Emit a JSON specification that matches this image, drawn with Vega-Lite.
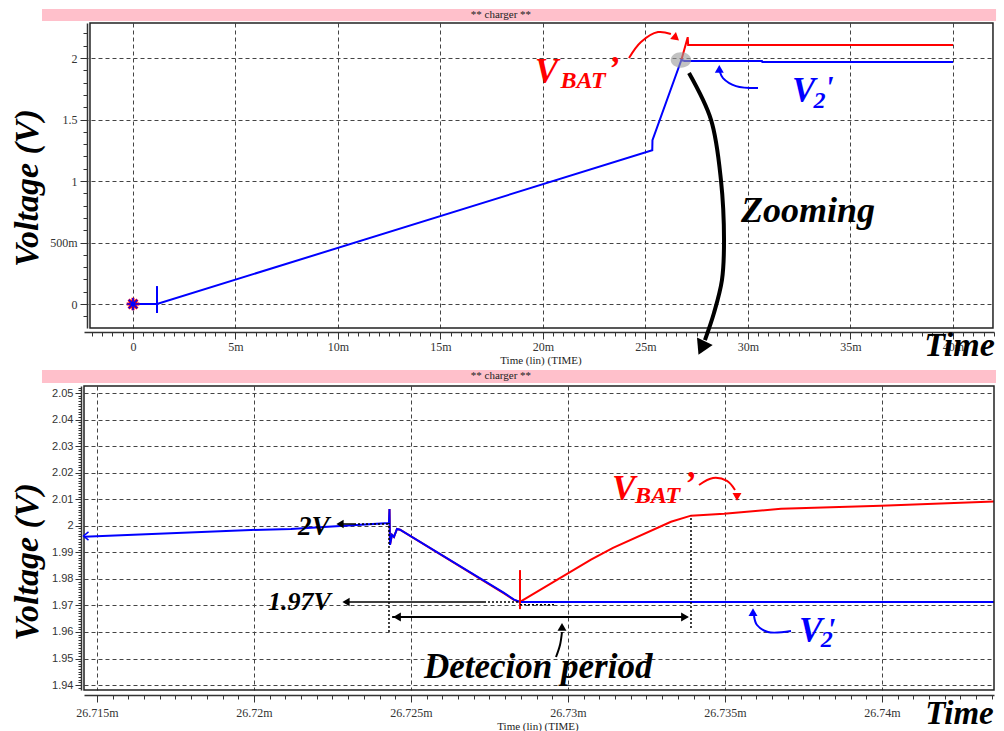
{
  "$schema": "https://vega.github.io/schema/vega-lite/v6.json",
  "background": "white",
  "padding": 0,
  "autosize": {"type": "pad"},
  "bounds": "flush",
  "spacing": 58,
  "config": {"view": {"stroke": null}},
  "data": {"values": [{}]},
  "datasets": {
    "top": [
      {"series": "V2", "t": 0, "v": 0},
      {"series": "V2", "t": 1.17, "v": 0},
      {"series": "V2", "t": 25.33, "v": 1.25},
      {"series": "V2", "t": 25.34, "v": 1.333},
      {"series": "V2", "t": 26.75, "v": 1.984},
      {"series": "V2", "t": 26.9, "v": 1.976},
      {"series": "V2", "t": 30.68, "v": 1.976},
      {"series": "V2", "t": 30.7, "v": 1.967},
      {"series": "V2", "t": 40.0, "v": 1.967},
      {"series": "VBAT", "t": 26.75, "v": 1.984},
      {"series": "VBAT", "t": 27.06, "v": 2.17},
      {"series": "VBAT", "t": 27.08, "v": 2.106},
      {"series": "VBAT", "t": 40.0, "v": 2.106}
    ],
    "bottom": [
      {"series": "V2", "t": 26.714586, "v": 1.9959},
      {"series": "V2", "t": 26.719904, "v": 1.9984},
      {"series": "V2", "t": 26.721178, "v": 1.9988},
      {"series": "V2", "t": 26.724299, "v": 2.0010},
      {"series": "V2", "t": 26.724315, "v": 2.0063},
      {"series": "V2", "t": 26.724331, "v": 1.9928},
      {"series": "V2", "t": 26.724395, "v": 1.9966},
      {"series": "V2", "t": 26.724458, "v": 1.9958},
      {"series": "V2", "t": 26.724554, "v": 1.9988},
      {"series": "V2", "t": 26.724650, "v": 1.9985},
      {"series": "V2", "t": 26.727962, "v": 1.9747},
      {"series": "V2", "t": 26.728280, "v": 1.9722},
      {"series": "V2", "t": 26.728471, "v": 1.9713},
      {"series": "V2", "t": 26.743567, "v": 1.9713},
      {"series": "VBAT", "t": 26.724299, "v": 2.0010},
      {"series": "VBAT", "t": 26.724315, "v": 2.0063},
      {"series": "VBAT", "t": 26.724331, "v": 1.9928},
      {"series": "VBAT", "t": 26.724395, "v": 1.9966},
      {"series": "VBAT", "t": 26.724458, "v": 1.9958},
      {"series": "VBAT", "t": 26.724554, "v": 1.9988},
      {"series": "VBAT", "t": 26.724650, "v": 1.9985},
      {"series": "VBAT", "t": 26.727962, "v": 1.9745},
      {"series": "VBAT", "t": 26.728280, "v": 1.9721},
      {"series": "VBAT", "t": 26.728471, "v": 1.9713},
      {"series": "VBAT", "t": 26.730732, "v": 1.9872},
      {"series": "VBAT", "t": 26.731433, "v": 1.9917},
      {"series": "VBAT", "t": 26.733280, "v": 2.0015},
      {"series": "VBAT", "t": 26.733917, "v": 2.0038},
      {"series": "VBAT", "t": 26.734968, "v": 2.0045},
      {"series": "VBAT", "t": 26.736783, "v": 2.0064},
      {"series": "VBAT", "t": 26.739968, "v": 2.0075},
      {"series": "VBAT", "t": 26.743567, "v": 2.0091}
    ]
  },
  "vconcat": [
    {
      "width": 910,
      "height": 305,
      "resolve": {"axis": {"x": "independent", "y": "independent"}},
      "layer": [
        {"mark": {"type": "rect", "fill": "#ffffff", "fillOpacity": 0},
         "encoding": {"x": {"datum": -6.439, "type": "quantitative", "scale": {"domain": [-2.39, 42.0]}, "axis": null}, "x2": {"datum": 42.537},
                      "y": {"datum": 2.4715, "type": "quantitative", "scale": {"domain": [-0.195, 2.285]}, "axis": null}, "y2": {"datum": -3.4715}}},
        {"mark": {"type": "rect", "fill": "#ffc0cb"},
         "encoding": {"x": {"datum": -4.439, "type": "quantitative", "scale": {"domain": [-2.39, 42.0]}, "axis": null}, "x2": {"datum": 42.10},
                      "y": {"datum": 2.398, "type": "quantitative", "scale": {"domain": [-0.195, 2.285]}, "axis": null}, "y2": {"datum": 2.301}}},
        {"mark": {"type": "text", "text": "** charger **", "font": "Liberation Serif", "fontSize": 11, "color": "#222", "baseline": "middle", "align": "center"},
         "encoding": {"x": {"datum": 17.95, "type": "quantitative", "scale": {"domain": [-2.39, 42.0]}, "axis": null},
                      "y": {"datum": 2.3496, "type": "quantitative", "scale": {"domain": [-0.195, 2.285]}, "axis": null}}},
        {"data": {"name": "top"},
         "transform": [{"filter": {"field": "series", "equal": "VBAT"}}],
         "mark": {"type": "line", "color": "#ff0000", "strokeWidth": 2},
         "encoding": {
           "x": {"field": "t", "type": "quantitative", "scale": {"domain": [-2.39, 42.0]},
                 "axis": {"title": null, "orient": "bottom", "offset": 4, "values": [0, 5, 10, 15, 20, 25, 30, 35, 40],
                          "labelExpr": "datum.value == 0 ? '0' : datum.value + 'm'",
                          "tickSize": 7, "grid": true, "gridDash": [4, 3], "gridColor": "#444", "gridWidth": 1,
                          "domainColor": "#333", "domainWidth": 1.5, "tickColor": "#333", "labelFlush": false, "labelOverlap": false,
                          "labelFont": "Liberation Serif", "labelFontSize": 12, "labelColor": "#333", "labelPadding": 2}},
           "y": {"field": "v", "type": "quantitative", "scale": {"domain": [-0.195, 2.285]},
                 "axis": {"title": null, "orient": "left", "offset": -3, "values": [0, 0.5, 1, 1.5, 2],
                          "labelExpr": "datum.value == 0.5 ? '500m' : format(datum.value, '~g')",
                          "tickSize": 7, "grid": true, "gridDash": [4, 3], "gridColor": "#444", "gridWidth": 1,
                          "domainColor": "#333", "domainWidth": 1.5, "tickColor": "#333", "labelFlush": false, "labelOverlap": false,
                          "labelFont": "Liberation Serif", "labelFontSize": 12, "labelColor": "#333", "labelPadding": 3}}
         }},
        {"data": {"name": "top"},
         "transform": [{"filter": {"field": "series", "equal": "V2"}}],
         "mark": {"type": "line", "color": "#0000ff", "strokeWidth": 2},
         "encoding": {
           "x": {"field": "t", "type": "quantitative", "scale": {"domain": [-2.39, 42.0]},
                 "axis": {"title": null, "orient": "bottom", "offset": 4, "tickCount": 88, "labels": false, "grid": false, "domain": false, "tickSize": 4, "tickColor": "#333"}},
           "y": {"field": "v", "type": "quantitative", "scale": {"domain": [-0.195, 2.285]},
                 "axis": {"title": null, "orient": "left", "offset": -3, "tickCount": 25, "labels": false, "grid": false, "domain": false, "tickSize": 4, "tickColor": "#333"}}}},
        {"mark": {"type": "rect", "filled": false, "stroke": "#222", "strokeWidth": 1.5},
         "encoding": {"x": {"datum": -2.098, "type": "quantitative", "scale": {"domain": [-2.39, 42.0]}, "axis": null}, "x2": {"datum": 41.95},
                      "y": {"datum": -0.195, "type": "quantitative", "scale": {"domain": [-0.195, 2.285]}, "axis": null}, "y2": {"datum": 2.285}}},
        {"mark": {"type": "point", "shape": "M-1,0L1,0M0,-1L0,1M-0.7,-0.7L0.7,0.7M-0.7,0.7L0.7,-0.7", "filled": false, "fill": null, "stroke": "#ff0000", "strokeWidth": 3, "size": 160, "opacity": 1},
         "encoding": {"x": {"datum": 0, "type": "quantitative", "scale": {"domain": [-2.39, 42.0]}, "axis": null},
                      "y": {"datum": 0, "type": "quantitative", "scale": {"domain": [-0.195, 2.285]}, "axis": null}}},
        {"mark": {"type": "point", "shape": "M-1,0L1,0M0,-1L0,1M-0.7,-0.7L0.7,0.7M-0.7,0.7L0.7,-0.7", "filled": false, "fill": null, "stroke": "#0000ff", "strokeWidth": 1.6, "size": 150, "opacity": 1},
         "encoding": {"x": {"datum": 0, "type": "quantitative", "scale": {"domain": [-2.39, 42.0]}, "axis": null},
                      "y": {"datum": 0, "type": "quantitative", "scale": {"domain": [-0.195, 2.285]}, "axis": null}}},
        {"mark": {"type": "rule", "color": "#0000ff", "strokeWidth": 2},
         "encoding": {"x": {"datum": 1.17, "type": "quantitative", "scale": {"domain": [-2.39, 42.0]}, "axis": null},
                      "y": {"datum": -0.073, "type": "quantitative", "scale": {"domain": [-0.195, 2.285]}, "axis": null}, "y2": {"datum": 0.146}}},
        {"mark": {"type": "point", "shape": "M-1,0A1,0.75 0 1,0 1,0A1,0.75 0 1,0 -1,0Z", "filled": true, "color": "#999999", "opacity": 0.6, "size": 420},
         "encoding": {"x": {"datum": 26.73, "type": "quantitative", "scale": {"domain": [-2.39, 42.0]}, "axis": null},
                      "y": {"datum": 1.984, "type": "quantitative", "scale": {"domain": [-0.195, 2.285]}, "axis": null}}},
        {"mark": {"type": "text", "text": "Voltage (V)", "font": "Liberation Serif", "fontStyle": "italic", "fontWeight": "bold", "fontSize": 34, "color": "#000", "angle": 270, "align": "center", "baseline": "middle"},
         "encoding": {"x": {"datum": -5.122, "type": "quantitative", "scale": {"domain": [-2.39, 42.0]}, "axis": null},
                      "y": {"datum": 0.9431, "type": "quantitative", "scale": {"domain": [-0.195, 2.285]}, "axis": null}}},
        {"mark": {"type": "text", "text": "Time (lin) (TIME)", "font": "Liberation Serif", "fontSize": 11, "color": "#222", "align": "center", "baseline": "middle"},
         "encoding": {"x": {"datum": 19.902, "type": "quantitative", "scale": {"domain": [-2.39, 42.0]}, "axis": null},
                      "y": {"datum": -0.4634, "type": "quantitative", "scale": {"domain": [-0.195, 2.285]}, "axis": null}}},
        {"mark": {"type": "text", "text": "Time", "font": "Liberation Serif", "fontStyle": "italic", "fontWeight": "bold", "fontSize": 34, "color": "#000", "align": "left", "baseline": "alphabetic"},
         "encoding": {"x": {"datum": 38.6, "type": "quantitative", "scale": {"domain": [-2.39, 42.0]}, "axis": null},
                      "y": {"datum": -0.4228, "type": "quantitative", "scale": {"domain": [-0.195, 2.285]}, "axis": null}}},
        {"mark": {"type": "text", "text": "Zooming", "font": "Liberation Serif", "fontStyle": "italic", "fontWeight": "bold", "fontSize": 36, "color": "#000", "align": "left", "baseline": "alphabetic"},
         "encoding": {"x": {"datum": 29.659, "type": "quantitative", "scale": {"domain": [-2.39, 42.0]}, "axis": null},
                      "y": {"datum": 0.6667, "type": "quantitative", "scale": {"domain": [-0.195, 2.285]}, "axis": null}}},
        {"mark": {"type": "text", "text": "V", "font": "Liberation Serif", "fontStyle": "italic", "fontWeight": "bold", "fontSize": 35, "color": "#ff0000", "align": "left", "baseline": "alphabetic"},
         "encoding": {"x": {"datum": 19.6, "type": "quantitative", "scale": {"domain": [-2.39, 42.0]}, "axis": null},
                      "y": {"datum": 1.797, "type": "quantitative", "scale": {"domain": [-0.195, 2.285]}, "axis": null}}},
        {"mark": {"type": "text", "text": "BAT", "font": "Liberation Serif", "fontStyle": "italic", "fontWeight": "bold", "fontSize": 24, "color": "#ff0000", "align": "left", "baseline": "alphabetic"},
         "encoding": {"x": {"datum": 20.85, "type": "quantitative", "scale": {"domain": [-2.39, 42.0]}, "axis": null},
                      "y": {"datum": 1.756, "type": "quantitative", "scale": {"domain": [-0.195, 2.285]}, "axis": null}}},
        {"mark": {"type": "text", "text": "’", "font": "Liberation Serif", "fontStyle": "italic", "fontWeight": "bold", "fontSize": 34, "color": "#ff0000", "align": "left", "baseline": "alphabetic"},
         "encoding": {"x": {"datum": 23.17, "type": "quantitative", "scale": {"domain": [-2.39, 42.0]}, "axis": null},
                      "y": {"datum": 1.83, "type": "quantitative", "scale": {"domain": [-0.195, 2.285]}, "axis": null}}},
        {"mark": {"type": "text", "text": "V", "font": "Liberation Serif", "fontStyle": "italic", "fontWeight": "bold", "fontSize": 35, "color": "#0000ff", "align": "left", "baseline": "alphabetic"},
         "encoding": {"x": {"datum": 32.15, "type": "quantitative", "scale": {"domain": [-2.39, 42.0]}, "axis": null},
                      "y": {"datum": 1.642, "type": "quantitative", "scale": {"domain": [-0.195, 2.285]}, "axis": null}}},
        {"mark": {"type": "text", "text": "2", "font": "Liberation Serif", "fontStyle": "italic", "fontWeight": "bold", "fontSize": 24, "color": "#0000ff", "align": "left", "baseline": "alphabetic"},
         "encoding": {"x": {"datum": 33.2, "type": "quantitative", "scale": {"domain": [-2.39, 42.0]}, "axis": null},
                      "y": {"datum": 1.593, "type": "quantitative", "scale": {"domain": [-0.195, 2.285]}, "axis": null}}},
        {"mark": {"type": "text", "text": "'", "font": "Liberation Serif", "fontStyle": "italic", "fontWeight": "bold", "fontSize": 32, "color": "#0000ff", "align": "left", "baseline": "alphabetic"},
         "encoding": {"x": {"datum": 33.75, "type": "quantitative", "scale": {"domain": [-2.39, 42.0]}, "axis": null},
                      "y": {"datum": 1.675, "type": "quantitative", "scale": {"domain": [-0.195, 2.285]}, "axis": null}}},
        {"data": {"values": [{"i": 0, "t": 24.195, "v": 2.0}, {"i": 1, "t": 24.78, "v": 2.13}, {"i": 2, "t": 25.61, "v": 2.211}, {"i": 3, "t": 26.24, "v": 2.195}]},
         "mark": {"type": "line", "color": "#ff0000", "strokeWidth": 2, "interpolate": "catmull-rom"},
         "encoding": {"x": {"field": "t", "type": "quantitative", "scale": {"domain": [-2.39, 42.0]}, "axis": null},
                      "y": {"field": "v", "type": "quantitative", "scale": {"domain": [-0.195, 2.285]}, "axis": null},
                      "order": {"field": "i", "type": "quantitative"}}},
        {"mark": {"type": "point", "shape": "triangle-right", "filled": true, "color": "#ff0000", "size": 80, "angle": 40, "opacity": 1},
         "encoding": {"x": {"datum": 26.49, "type": "quantitative", "scale": {"domain": [-2.39, 42.0]}, "axis": null},
                      "y": {"datum": 2.163, "type": "quantitative", "scale": {"domain": [-0.195, 2.285]}, "axis": null}}},
        {"data": {"values": [{"i": 0, "t": 30.488, "v": 1.756}, {"i": 1, "t": 29.415, "v": 1.772}, {"i": 2, "t": 28.78, "v": 1.837}, {"i": 3, "t": 28.63, "v": 1.886}]},
         "mark": {"type": "line", "color": "#0000ff", "strokeWidth": 2, "interpolate": "catmull-rom"},
         "encoding": {"x": {"field": "t", "type": "quantitative", "scale": {"domain": [-2.39, 42.0]}, "axis": null},
                      "y": {"field": "v", "type": "quantitative", "scale": {"domain": [-0.195, 2.285]}, "axis": null},
                      "order": {"field": "i", "type": "quantitative"}}},
        {"mark": {"type": "point", "shape": "triangle-up", "filled": true, "color": "#0000ff", "size": 80, "opacity": 1},
         "encoding": {"x": {"datum": 28.6, "type": "quantitative", "scale": {"domain": [-2.39, 42.0]}, "axis": null},
                      "y": {"datum": 1.911, "type": "quantitative", "scale": {"domain": [-0.195, 2.285]}, "axis": null}}},
        {"data": {"values": [{"i": 0, "t": 27.122, "v": 1.878}, {"i": 1, "t": 28.2, "v": 1.496}, {"i": 2, "t": 28.68, "v": 1.008}, {"i": 3, "t": 28.83, "v": 0.52}, {"i": 4, "t": 28.73, "v": 0.195}, {"i": 5, "t": 28.34, "v": -0.073}, {"i": 6, "t": 27.9, "v": -0.293}]},
         "mark": {"type": "line", "color": "#000000", "strokeWidth": 4, "interpolate": "catmull-rom"},
         "encoding": {"x": {"field": "t", "type": "quantitative", "scale": {"domain": [-2.39, 42.0]}, "axis": null},
                      "y": {"field": "v", "type": "quantitative", "scale": {"domain": [-0.195, 2.285]}, "axis": null},
                      "order": {"field": "i", "type": "quantitative"}}},
        {"mark": {"type": "point", "shape": "triangle-down", "filled": true, "color": "#000000", "size": 300, "angle": 25, "opacity": 1},
         "encoding": {"x": {"datum": 27.74, "type": "quantitative", "scale": {"domain": [-2.39, 42.0]}, "axis": null},
                      "y": {"datum": -0.358, "type": "quantitative", "scale": {"domain": [-0.195, 2.285]}, "axis": null}}}
      ]
    },
    {
      "width": 910,
      "height": 304,
      "resolve": {"axis": {"x": "independent", "y": "independent"}},
      "layer": [
        {"mark": {"type": "rect", "fill": "#ffc0cb"},
         "encoding": {"x": {"datum": 26.713248, "type": "quantitative", "scale": {"domain": [26.714586, 26.743567]}, "axis": null}, "x2": {"datum": 26.743631},
                      "y": {"datum": 2.05866, "type": "quantitative", "scale": {"domain": [1.938136, 2.052637]}, "axis": null}, "y2": {"datum": 2.05377}}},
        {"mark": {"type": "text", "text": "** charger **", "font": "Liberation Serif", "fontSize": 11, "color": "#222", "baseline": "middle", "align": "center"},
         "encoding": {"x": {"datum": 26.727866, "type": "quantitative", "scale": {"domain": [26.714586, 26.743567]}, "axis": null},
                      "y": {"datum": 2.0564, "type": "quantitative", "scale": {"domain": [1.938136, 2.052637]}, "axis": null}}},
        {"data": {"name": "bottom"},
         "transform": [{"filter": {"field": "series", "equal": "VBAT"}}],
         "mark": {"type": "line", "color": "#ff0000", "strokeWidth": 2},
         "encoding": {
           "x": {"field": "t", "type": "quantitative", "scale": {"domain": [26.714586, 26.743567]},
                 "axis": {"title": null, "orient": "bottom", "offset": 5, "values": [26.715, 26.72, 26.725, 26.73, 26.735, 26.74],
                          "labelExpr": "format(datum.value, '.3~f') + 'm'",
                          "tickSize": 7, "grid": true, "gridDash": [4, 3], "gridColor": "#444", "gridWidth": 1,
                          "domainColor": "#333", "domainWidth": 1.5, "tickColor": "#333", "labelFlush": false, "labelOverlap": false,
                          "labelFont": "Liberation Serif", "labelFontSize": 12, "labelColor": "#333", "labelPadding": 5}},
           "y": {"field": "v", "type": "quantitative", "scale": {"domain": [1.938136, 2.052637]},
                 "axis": {"title": null, "orient": "left", "offset": 3, "values": [1.94, 1.95, 1.96, 1.97, 1.98, 1.99, 2.0, 2.01, 2.02, 2.03, 2.04, 2.05],
                          "labelExpr": "format(datum.value, '.2~f')",
                          "tickSize": 6, "grid": true, "gridDash": [4, 3], "gridColor": "#444", "gridWidth": 1,
                          "domainColor": "#333", "domainWidth": 1.5, "tickColor": "#333", "labelFlush": false, "labelOverlap": false,
                          "labelFont": "Liberation Sans", "labelFontSize": 11, "labelColor": "#333", "labelPadding": 2}}
         }},
        {"data": {"name": "bottom"},
         "transform": [{"filter": {"field": "series", "equal": "V2"}}],
         "mark": {"type": "line", "color": "#0000ff", "strokeWidth": 2},
         "encoding": {
           "x": {"field": "t", "type": "quantitative", "scale": {"domain": [26.714586, 26.743567]},
                 "axis": {"title": null, "orient": "bottom", "offset": 5, "tickCount": 58, "labels": false, "grid": false, "domain": false, "tickSize": 4, "tickColor": "#333"}},
           "y": {"field": "v", "type": "quantitative", "scale": {"domain": [1.938136, 2.052637]},
                 "axis": {"title": null, "orient": "left", "offset": 3, "tickCount": 115, "labels": false, "grid": false, "domain": false, "tickSize": 3, "tickColor": "#333"}}}},
        {"mark": {"type": "rect", "filled": false, "stroke": "#222", "strokeWidth": 1.5},
         "encoding": {"x": {"datum": 26.714586, "type": "quantitative", "scale": {"domain": [26.714586, 26.743567]}, "axis": null}, "x2": {"datum": 26.743567},
                      "y": {"datum": 1.938136, "type": "quantitative", "scale": {"domain": [1.938136, 2.052637]}, "axis": null}, "y2": {"datum": 2.052637}}},
        {"mark": {"type": "rule", "color": "#ff0000", "strokeWidth": 2},
         "encoding": {"x": {"datum": 26.728471, "type": "quantitative", "scale": {"domain": [26.714586, 26.743567]}, "axis": null},
                      "y": {"datum": 1.9686, "type": "quantitative", "scale": {"domain": [1.938136, 2.052637]}, "axis": null}, "y2": {"datum": 1.9833}}},
        {"mark": {"type": "point", "shape": "M0.6,-1L-0.6,0L0.6,1", "filled": false, "stroke": "#0000ff", "strokeWidth": 1.5, "size": 70, "opacity": 1},
         "encoding": {"x": {"datum": 26.71465, "type": "quantitative", "scale": {"domain": [26.714586, 26.743567]}, "axis": null},
                      "y": {"datum": 1.99614, "type": "quantitative", "scale": {"domain": [1.938136, 2.052637]}, "axis": null}}},
        {"mark": {"type": "rule", "color": "#000", "strokeWidth": 1.5, "strokeDash": [2, 2]},
         "encoding": {"x": {"datum": 26.724299, "type": "quantitative", "scale": {"domain": [26.714586, 26.743567]}, "axis": null},
                      "y": {"datum": 1.96, "type": "quantitative", "scale": {"domain": [1.938136, 2.052637]}, "axis": null}, "y2": {"datum": 2.001}}},
        {"mark": {"type": "rule", "color": "#000", "strokeWidth": 1.5, "strokeDash": [2, 2]},
         "encoding": {"x": {"datum": 26.733917, "type": "quantitative", "scale": {"domain": [26.714586, 26.743567]}, "axis": null},
                      "y": {"datum": 1.9615, "type": "quantitative", "scale": {"domain": [1.938136, 2.052637]}, "axis": null}, "y2": {"datum": 2.0038}}},
        {"mark": {"type": "rule", "color": "#000", "strokeWidth": 2},
         "encoding": {"x": {"datum": 26.7244, "type": "quantitative", "scale": {"domain": [26.714586, 26.743567]}, "axis": null}, "x2": {"datum": 26.7338},
                      "y": {"datum": 1.96563, "type": "quantitative", "scale": {"domain": [1.938136, 2.052637]}, "axis": null}}},
        {"mark": {"type": "point", "shape": "triangle-left", "filled": true, "color": "#000", "size": 80, "opacity": 1},
         "encoding": {"x": {"datum": 26.724554, "type": "quantitative", "scale": {"domain": [26.714586, 26.743567]}, "axis": null},
                      "y": {"datum": 1.96563, "type": "quantitative", "scale": {"domain": [1.938136, 2.052637]}, "axis": null}}},
        {"mark": {"type": "point", "shape": "triangle-right", "filled": true, "color": "#000", "size": 80, "opacity": 1},
         "encoding": {"x": {"datum": 26.733726, "type": "quantitative", "scale": {"domain": [26.714586, 26.743567]}, "axis": null},
                      "y": {"datum": 1.96563, "type": "quantitative", "scale": {"domain": [1.938136, 2.052637]}, "axis": null}}},
        {"mark": {"type": "rule", "color": "#000", "strokeWidth": 1.5},
         "encoding": {"x": {"datum": 26.72274, "type": "quantitative", "scale": {"domain": [26.714586, 26.743567]}, "axis": null}, "x2": {"datum": 26.723185},
                      "y": {"datum": 2.00066, "type": "quantitative", "scale": {"domain": [1.938136, 2.052637]}, "axis": null}}},
        {"mark": {"type": "rule", "color": "#000", "strokeWidth": 1.5, "strokeDash": [2, 2]},
         "encoding": {"x": {"datum": 26.723185, "type": "quantitative", "scale": {"domain": [26.714586, 26.743567]}, "axis": null}, "x2": {"datum": 26.724299},
                      "y": {"datum": 2.00066, "type": "quantitative", "scale": {"domain": [1.938136, 2.052637]}, "axis": null}}},
        {"mark": {"type": "point", "shape": "triangle-left", "filled": true, "color": "#000", "size": 70, "opacity": 1},
         "encoding": {"x": {"datum": 26.722739, "type": "quantitative", "scale": {"domain": [26.714586, 26.743567]}, "axis": null},
                      "y": {"datum": 2.00066, "type": "quantitative", "scale": {"domain": [1.938136, 2.052637]}, "axis": null}}},
        {"mark": {"type": "rule", "color": "#000", "strokeWidth": 1.5},
         "encoding": {"x": {"datum": 26.72293, "type": "quantitative", "scale": {"domain": [26.714586, 26.743567]}, "axis": null}, "x2": {"datum": 26.727325},
                      "y": {"datum": 1.97128, "type": "quantitative", "scale": {"domain": [1.938136, 2.052637]}, "axis": null}}},
        {"mark": {"type": "rule", "color": "#000", "strokeWidth": 1.5, "strokeDash": [2, 2]},
         "encoding": {"x": {"datum": 26.727325, "type": "quantitative", "scale": {"domain": [26.714586, 26.743567]}, "axis": null}, "x2": {"datum": 26.728471},
                      "y": {"datum": 1.97128, "type": "quantitative", "scale": {"domain": [1.938136, 2.052637]}, "axis": null}}},
        {"mark": {"type": "rule", "color": "#000", "strokeWidth": 1.5, "strokeDash": [2, 2]},
         "encoding": {"x": {"datum": 26.728471, "type": "quantitative", "scale": {"domain": [26.714586, 26.743567]}, "axis": null}, "x2": {"datum": 26.729618},
                      "y": {"datum": 1.9702, "type": "quantitative", "scale": {"domain": [1.938136, 2.052637]}, "axis": null}}},
        {"mark": {"type": "point", "shape": "triangle-left", "filled": true, "color": "#000", "size": 70, "opacity": 1},
         "encoding": {"x": {"datum": 26.72293, "type": "quantitative", "scale": {"domain": [26.714586, 26.743567]}, "axis": null},
                      "y": {"datum": 1.97128, "type": "quantitative", "scale": {"domain": [1.938136, 2.052637]}, "axis": null}}},
        {"data": {"values": [{"i": 0, "t": 26.729618, "v": 1.95056}, {"i": 1, "t": 26.729745, "v": 1.95508}, {"i": 2, "t": 26.729809, "v": 1.95998}]},
         "mark": {"type": "line", "color": "#000", "strokeWidth": 2, "interpolate": "catmull-rom"},
         "encoding": {"x": {"field": "t", "type": "quantitative", "scale": {"domain": [26.714586, 26.743567]}, "axis": null},
                      "y": {"field": "v", "type": "quantitative", "scale": {"domain": [1.938136, 2.052637]}, "axis": null},
                      "order": {"field": "i", "type": "quantitative"}}},
        {"mark": {"type": "point", "shape": "triangle-up", "filled": true, "color": "#000", "size": 80, "opacity": 1},
         "encoding": {"x": {"datum": 26.729809, "type": "quantitative", "scale": {"domain": [26.714586, 26.743567]}, "axis": null},
                      "y": {"datum": 1.96187, "type": "quantitative", "scale": {"domain": [1.938136, 2.052637]}, "axis": null}}},
        {"data": {"values": [{"i": 0, "t": 26.734172, "v": 2.01535}, {"i": 1, "t": 26.734618, "v": 2.01798}, {"i": 2, "t": 26.735064, "v": 2.01686}, {"i": 3, "t": 26.735319, "v": 2.01347}]},
         "mark": {"type": "line", "color": "#ff0000", "strokeWidth": 2, "interpolate": "catmull-rom"},
         "encoding": {"x": {"field": "t", "type": "quantitative", "scale": {"domain": [26.714586, 26.743567]}, "axis": null},
                      "y": {"field": "v", "type": "quantitative", "scale": {"domain": [1.938136, 2.052637]}, "axis": null},
                      "order": {"field": "i", "type": "quantitative"}}},
        {"mark": {"type": "point", "shape": "triangle-down", "filled": true, "color": "#ff0000", "size": 80, "opacity": 1},
         "encoding": {"x": {"datum": 26.735382, "type": "quantitative", "scale": {"domain": [26.714586, 26.743567]}, "axis": null},
                      "y": {"datum": 2.01083, "type": "quantitative", "scale": {"domain": [1.938136, 2.052637]}, "axis": null}}},
        {"data": {"values": [{"i": 0, "t": 26.737102, "v": 1.96036}, {"i": 1, "t": 26.736369, "v": 1.95998}, {"i": 2, "t": 26.736019, "v": 1.96262}, {"i": 3, "t": 26.735924, "v": 1.96601}]},
         "mark": {"type": "line", "color": "#0000ff", "strokeWidth": 2, "interpolate": "catmull-rom"},
         "encoding": {"x": {"field": "t", "type": "quantitative", "scale": {"domain": [26.714586, 26.743567]}, "axis": null},
                      "y": {"field": "v", "type": "quantitative", "scale": {"domain": [1.938136, 2.052637]}, "axis": null},
                      "order": {"field": "i", "type": "quantitative"}}},
        {"mark": {"type": "point", "shape": "triangle-up", "filled": true, "color": "#0000ff", "size": 80, "opacity": 1},
         "encoding": {"x": {"datum": 26.735892, "type": "quantitative", "scale": {"domain": [26.714586, 26.743567]}, "axis": null},
                      "y": {"datum": 1.96751, "type": "quantitative", "scale": {"domain": [1.938136, 2.052637]}, "axis": null}}},
        {"mark": {"type": "text", "text": "2V", "font": "Liberation Serif", "fontStyle": "italic", "fontWeight": "bold", "fontSize": 27, "color": "#000", "align": "left", "baseline": "alphabetic"},
         "encoding": {"x": {"datum": 26.721401, "type": "quantitative", "scale": {"domain": [26.714586, 26.743567]}, "axis": null},
                      "y": {"datum": 1.99652, "type": "quantitative", "scale": {"domain": [1.938136, 2.052637]}, "axis": null}}},
        {"mark": {"type": "text", "text": "1.97V", "font": "Liberation Serif", "fontStyle": "italic", "fontWeight": "bold", "fontSize": 26, "color": "#000", "align": "left", "baseline": "alphabetic"},
         "encoding": {"x": {"datum": 26.720446, "type": "quantitative", "scale": {"domain": [26.714586, 26.743567]}, "axis": null},
                      "y": {"datum": 1.96827, "type": "quantitative", "scale": {"domain": [1.938136, 2.052637]}, "axis": null}}},
        {"mark": {"type": "text", "text": "Detecion period", "font": "Liberation Serif", "fontStyle": "italic", "fontWeight": "bold", "fontSize": 35, "color": "#000", "align": "left", "baseline": "alphabetic"},
         "encoding": {"x": {"datum": 26.725414, "type": "quantitative", "scale": {"domain": [26.714586, 26.743567]}, "axis": null},
                      "y": {"datum": 1.94265, "type": "quantitative", "scale": {"domain": [1.938136, 2.052637]}, "axis": null}}},
        {"mark": {"type": "text", "text": "V", "font": "Liberation Serif", "fontStyle": "italic", "fontWeight": "bold", "fontSize": 35, "color": "#ff0000", "align": "left", "baseline": "alphabetic"},
         "encoding": {"x": {"datum": 26.731405, "type": "quantitative", "scale": {"domain": [26.714586, 26.743567]}, "axis": null},
                      "y": {"datum": 2.0097, "type": "quantitative", "scale": {"domain": [1.938136, 2.052637]}, "axis": null}}},
        {"mark": {"type": "text", "text": "BAT", "font": "Liberation Serif", "fontStyle": "italic", "fontWeight": "bold", "fontSize": 24, "color": "#ff0000", "align": "left", "baseline": "alphabetic"},
         "encoding": {"x": {"datum": 26.73213, "type": "quantitative", "scale": {"domain": [26.714586, 26.743567]}, "axis": null},
                      "y": {"datum": 2.00857, "type": "quantitative", "scale": {"domain": [1.938136, 2.052637]}, "axis": null}}},
        {"mark": {"type": "text", "text": "’", "font": "Liberation Serif", "fontStyle": "italic", "fontWeight": "bold", "fontSize": 34, "color": "#ff0000", "align": "left", "baseline": "alphabetic"},
         "encoding": {"x": {"datum": 26.733694, "type": "quantitative", "scale": {"domain": [26.714586, 26.743567]}, "axis": null},
                      "y": {"datum": 2.0118, "type": "quantitative", "scale": {"domain": [1.938136, 2.052637]}, "axis": null}}},
        {"mark": {"type": "text", "text": "V", "font": "Liberation Serif", "fontStyle": "italic", "fontWeight": "bold", "fontSize": 35, "color": "#0000ff", "align": "left", "baseline": "alphabetic"},
         "encoding": {"x": {"datum": 26.73736, "type": "quantitative", "scale": {"domain": [26.714586, 26.743567]}, "axis": null},
                      "y": {"datum": 1.95621, "type": "quantitative", "scale": {"domain": [1.938136, 2.052637]}, "axis": null}}},
        {"mark": {"type": "text", "text": "2", "font": "Liberation Serif", "fontStyle": "italic", "fontWeight": "bold", "fontSize": 24, "color": "#0000ff", "align": "left", "baseline": "alphabetic"},
         "encoding": {"x": {"datum": 26.73805, "type": "quantitative", "scale": {"domain": [26.714586, 26.743567]}, "axis": null},
                      "y": {"datum": 1.95433, "type": "quantitative", "scale": {"domain": [1.938136, 2.052637]}, "axis": null}}},
        {"mark": {"type": "text", "text": "'", "font": "Liberation Serif", "fontStyle": "italic", "fontWeight": "bold", "fontSize": 32, "color": "#0000ff", "align": "left", "baseline": "alphabetic"},
         "encoding": {"x": {"datum": 26.73823, "type": "quantitative", "scale": {"domain": [26.714586, 26.743567]}, "axis": null},
                      "y": {"datum": 1.95697, "type": "quantitative", "scale": {"domain": [1.938136, 2.052637]}, "axis": null}}},
        {"mark": {"type": "text", "text": "Voltage (V)", "font": "Liberation Serif", "fontStyle": "italic", "fontWeight": "bold", "fontSize": 34, "color": "#000", "angle": 270, "align": "center", "baseline": "middle"},
         "encoding": {"x": {"datum": 26.712803, "type": "quantitative", "scale": {"domain": [26.714586, 26.743567]}, "axis": null},
                      "y": {"datum": 1.98635, "type": "quantitative", "scale": {"domain": [1.938136, 2.052637]}, "axis": null}}},
        {"mark": {"type": "text", "text": "Time (lin) (TIME)", "font": "Liberation Serif", "fontSize": 11, "color": "#222", "align": "center", "baseline": "middle"},
         "encoding": {"x": {"datum": 26.729045, "type": "quantitative", "scale": {"domain": [26.714586, 26.743567]}, "axis": null},
                      "y": {"datum": 1.9242, "type": "quantitative", "scale": {"domain": [1.938136, 2.052637]}, "axis": null}}},
        {"mark": {"type": "text", "text": "Time", "font": "Liberation Serif", "fontStyle": "italic", "fontWeight": "bold", "fontSize": 33, "color": "#000", "align": "left", "baseline": "alphabetic"},
         "encoding": {"x": {"datum": 26.74138, "type": "quantitative", "scale": {"domain": [26.714586, 26.743567]}, "axis": null},
                      "y": {"datum": 1.9253, "type": "quantitative", "scale": {"domain": [1.938136, 2.052637]}, "axis": null}}}
      ]
    }
  ]
}
